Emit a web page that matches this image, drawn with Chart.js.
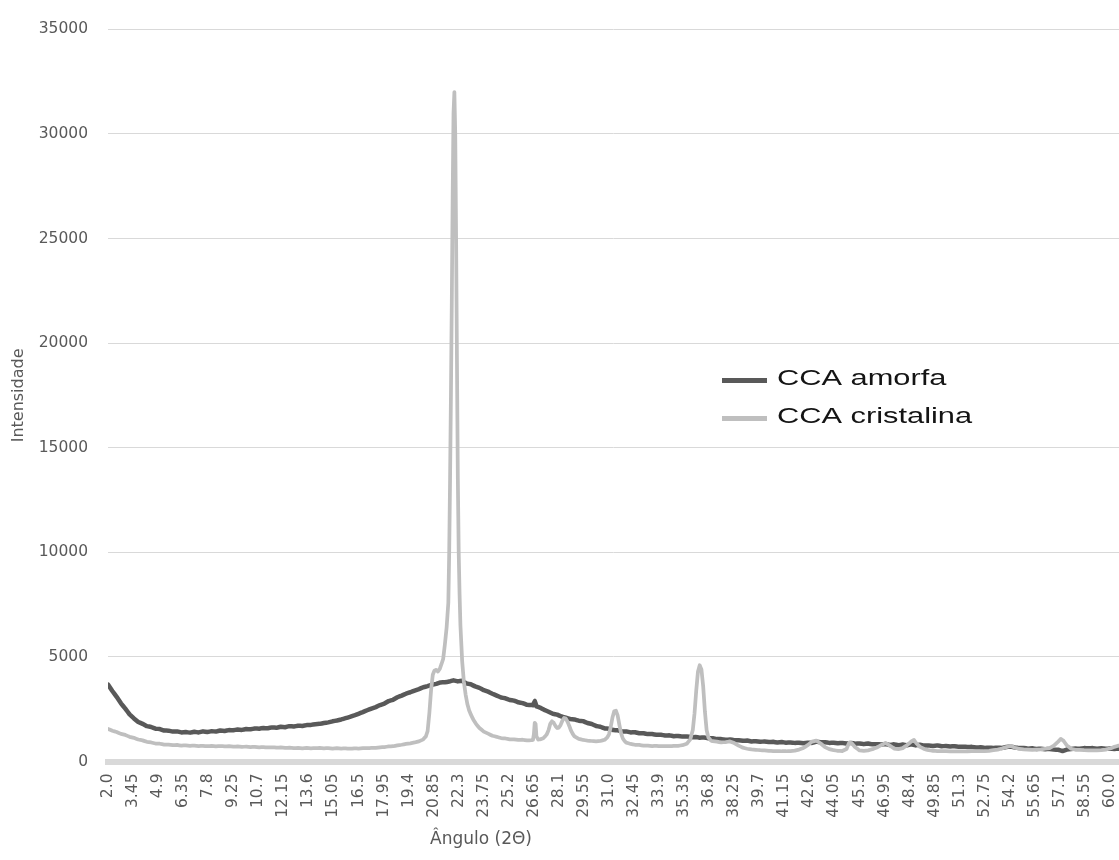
<!DOCTYPE html>
<html>
<head>
<meta charset="utf-8">
<script src="https://cdn.jsdelivr.net/npm/chart.js@4.4.1/dist/chart.umd.min.js"></script>
<style>
  html, body { margin: 0; padding: 0; background: #ffffff; }
  #wrap { width: 1119px; height: 860px; }
</style>
</head>
<body>
<div id="wrap"><canvas id="difratograma" width="1119" height="860"></canvas></div>
<script>
// Rótulos do eixo X (2θ)
const rotulosAngulo = ['2.0','3.45','4.9','6.35','7.8','9.25','10.7','12.15','13.6','15.05','16.5','17.95','19.4','20.85','22.3','23.75','25.2','26.65','28.1','29.55','31.0','32.45','33.9','35.35','36.8','38.25','39.7','41.15','42.6','44.05','45.5','46.95','48.4','49.85','51.3','52.75','54.2','55.65','57.1','58.55','60.0'];
const rotulosIntensidade = [0, 5000, 10000, 15000, 20000, 25000, 30000, 35000];

// CCA amorfa: ângulo 2θ e intensidade
const anguloAmorfa = [
  2.0,2.25,2.5,2.75,3.0,3.25,3.5,3.75,4.0,4.25,4.5,4.75,5.0,5.25,5.5,5.75,6.0,6.25,6.5,6.75,
  7.0,7.25,7.5,7.75,8.0,8.25,8.5,8.75,9.0,9.25,9.5,9.75,10.0,10.25,10.5,10.75,11.0,11.25,11.5,11.75,
  12.0,12.25,12.5,12.75,13.0,13.25,13.5,13.75,14.0,14.25,14.5,14.75,15.0,15.25,15.5,15.75,16.0,16.25,16.5,16.75,
  17.0,17.25,17.5,17.75,18.0,18.25,18.5,18.75,19.0,19.25,19.5,19.75,20.0,20.25,20.5,20.75,21.0,21.25,21.5,21.75,
  22.0,22.25,22.5,22.75,23.0,23.25,23.5,23.75,24.0,24.25,24.5,24.75,25.0,25.25,25.5,25.75,26.0,26.25,26.5,26.6,26.7,26.8,
  27.0,27.25,27.5,27.75,28.0,28.25,28.5,28.75,29.0,29.25,29.5,29.75,30.0,30.25,30.5,30.75,31.0,31.25,31.5,31.75,
  32.0,32.25,32.5,32.75,33.0,33.25,33.5,33.75,34.0,34.25,34.5,34.75,35.0,35.25,35.5,35.75,36.0,36.25,36.5,36.75,
  37.0,37.25,37.5,37.75,38.0,38.25,38.5,38.75,39.0,39.25,39.5,39.75,40.0,40.25,40.5,40.75,41.0,41.25,41.5,41.75,
  42.0,42.25,42.5,42.75,43.0,43.25,43.5,43.75,44.0,44.25,44.5,44.75,45.0,45.25,45.5,45.75,46.0,46.25,46.5,46.75,
  47.0,47.25,47.5,47.75,48.0,48.25,48.5,48.75,49.0,49.25,49.5,49.75,50.0,50.25,50.5,50.75,51.0,51.25,51.5,51.75,
  52.0,52.25,52.5,52.75,53.0,53.25,53.5,53.75,54.0,54.25,54.5,54.75,55.0,55.25,55.5,55.75,56.0,56.25,56.5,56.75,
  57.0,57.25,57.5,57.75,58.0,58.25,58.5,58.75,59.0,59.25,59.5,59.75,60.0,60.25,60.5
];
const intensidadeAmorfa = [
  3680,3370,3090,2780,2530,2250,2060,1890,1800,1690,1650,1570,1550,1480,1475,1430,1440,1390,1405,1380,
  1420,1390,1440,1410,1450,1430,1480,1460,1500,1490,1530,1510,1550,1540,1580,1570,1600,1590,1630,1610,
  1660,1640,1690,1670,1710,1700,1740,1750,1780,1800,1840,1870,1920,1960,2010,2070,2130,2200,2280,2360,
  2450,2530,2600,2700,2770,2890,2950,3070,3150,3240,3310,3390,3460,3550,3600,3670,3710,3780,3790,3820,
  3880,3830,3860,3730,3690,3590,3520,3410,3340,3240,3150,3060,3020,2940,2910,2830,2790,2710,2700,2690,2900,2640,
  2580,2470,2380,2280,2240,2150,2090,2030,2010,1950,1930,1840,1790,1700,1660,1580,1570,1500,1490,1440,
  1440,1390,1400,1350,1350,1310,1310,1280,1280,1240,1250,1210,1220,1190,1200,1160,1170,1140,1150,1110,
  1110,1070,1070,1040,1050,1020,1020,990,1000,960,970,940,960,930,940,910,930,900,910,890,
  900,870,900,890,950,920,920,890,900,870,890,860,890,850,860,830,860,820,830,810,
  830,790,820,780,810,780,820,770,800,760,770,740,770,730,740,720,730,700,710,690,
  700,670,680,650,660,650,660,650,690,710,670,640,650,610,630,600,610,590,600,570,
  560,500,570,600,620,610,640,630,640,610,630,610,620,600,610
];

// CCA cristalina: ângulo 2θ e intensidade
const anguloCristalina = [
  2.0,2.25,2.5,2.75,3.0,3.25,3.5,3.75,4.0,4.25,4.5,4.75,5.0,5.25,5.5,5.75,6.0,6.25,6.5,6.75,
  7.0,7.25,7.5,7.75,8.0,8.25,8.5,8.75,9.0,9.25,9.5,9.75,10.0,10.25,10.5,10.75,11.0,11.25,11.5,11.75,
  12.0,12.25,12.5,12.75,13.0,13.25,13.5,13.75,14.0,14.25,14.5,14.75,15.0,15.25,15.5,15.75,16.0,16.25,16.5,16.75,
  17.0,17.25,17.5,17.75,18.0,18.25,18.5,18.75,19.0,19.25,19.5,19.75,20.0,20.25,20.4,20.5,20.6,20.7,20.8,20.9,
  21.0,21.1,21.2,21.3,21.4,21.5,21.6,21.7,21.75,21.8,21.85,21.9,21.95,22.0,22.05,22.1,22.15,22.2,22.25,22.3,22.35,22.4,
  22.5,22.6,22.7,22.8,22.9,23.0,23.15,23.3,23.5,23.75,
  24.0,24.25,24.5,24.75,25.0,25.25,25.5,25.75,26.0,26.25,26.5,26.6,26.65,26.7,26.75,26.8,26.9,
  27.0,27.1,27.2,27.3,27.4,27.5,27.6,27.7,27.8,27.9,28.0,28.1,28.2,28.3,28.4,28.5,28.6,28.7,28.8,28.9,29.0,
  29.25,29.5,29.75,
  30.0,30.25,30.5,30.75,30.9,31.0,31.1,31.2,31.3,31.4,31.5,31.6,31.7,31.8,31.9,
  32.0,32.25,32.5,32.75,33.0,33.25,33.5,33.75,34.0,34.25,34.5,34.75,35.0,35.25,35.5,
  35.7,35.85,35.95,36.05,36.15,36.25,36.35,36.45,36.55,36.65,36.75,36.9,
  37.0,37.25,37.5,37.75,38.0,38.25,38.5,38.75,39.0,39.25,39.5,39.75,40.0,40.25,40.5,40.75,41.0,41.25,41.5,41.75,
  42.0,42.25,42.5,42.75,43.0,43.25,43.5,43.75,44.0,44.25,44.5,44.75,
  44.9,45.05,45.25,45.5,45.75,46.0,46.25,46.5,46.75,47.0,47.25,47.5,47.75,48.0,48.25,48.5,
  48.65,48.8,49.0,49.25,49.5,49.75,
  50.0,50.5,51.0,51.5,52.0,52.5,53.0,53.5,53.75,54.0,54.25,54.5,54.75,55.0,55.5,56.0,56.5,56.75,
  57.0,57.15,57.3,57.5,57.75,58.0,58.5,59.0,59.5,59.75,60.0,60.25,60.5
];
const intensidadeCristalina = [
  1560,1470,1410,1320,1270,1180,1130,1050,1010,940,910,860,850,810,810,780,790,760,770,750,
  760,740,750,730,750,720,740,720,730,710,720,700,710,690,700,680,690,670,680,660,
  670,650,660,640,650,630,650,630,640,650,630,640,620,640,620,630,610,630,620,640,
  640,650,650,680,690,720,730,770,800,840,870,910,960,1060,1200,1450,2300,3400,4150,4350,
  4380,4300,4420,4650,4900,5600,6400,7600,10000,13500,17500,22000,27000,31000,32000,30000,25000,19000,13500,10000,8000,6500,
  4800,3800,3200,2750,2450,2250,2000,1800,1600,1430,
  1330,1230,1180,1120,1100,1060,1060,1030,1040,1010,1020,1030,1300,1850,1800,1200,1050,
  1060,1080,1120,1200,1300,1500,1800,1920,1850,1700,1600,1620,1750,1950,2080,2050,1900,1700,1480,1320,1200,
  1080,1030,1000,
  980,960,980,1040,1150,1300,1650,2100,2400,2430,2200,1750,1350,1100,980,
  900,840,800,790,760,760,740,750,730,740,730,750,750,780,850,
  1050,1500,2300,3400,4300,4600,4400,3600,2400,1500,1150,1000,
  970,950,910,930,960,880,760,660,610,580,560,540,530,510,500,500,490,490,500,520,
  570,650,780,950,1000,860,690,590,540,510,500,600,
  900,880,680,530,510,530,590,670,780,890,760,620,590,640,780,960,
  1030,860,700,600,540,510,
  500,490,480,480,490,490,510,570,620,690,740,660,600,580,560,580,640,760,
  950,1080,1000,770,610,560,540,530,540,570,620,700,760
];

const pares = (xs, ys) => xs.map((x, i) => ({ x: x, y: ys[i] }));

const FONTE = '"DejaVu Sans", "Liberation Sans", sans-serif';
const CINZA_TEXTO = '#595959';

// Legenda desenhada dentro da área do gráfico
const legendaInterna = {
  id: 'legendaInterna',
  afterDatasetsDraw(chart) {
    const ctx = chart.ctx;
    const linhas = [379, 417];
    chart.data.datasets.forEach((ds, i) => {
      const y = linhas[i];
      ctx.save();
      ctx.strokeStyle = ds.borderColor;
      ctx.lineWidth = 5;
      ctx.beginPath();
      ctx.moveTo(722, y + 1.5);
      ctx.lineTo(767, y + 1.5);
      ctx.stroke();
      ctx.fillStyle = '#141414';
      ctx.font = '22px "Liberation Sans", Arial, sans-serif';
      ctx.textBaseline = 'middle';
      ctx.textAlign = 'left';
      ctx.translate(777, y);
      ctx.scale(1.4, 1);
      ctx.fillText(ds.label, 0, 0);
      ctx.restore();
    });
  }
};

// Título do eixo X
const tituloEixoX = {
  id: 'tituloEixoX',
  afterDraw(chart) {
    const ctx = chart.ctx;
    ctx.save();
    ctx.fillStyle = CINZA_TEXTO;
    ctx.font = '17px ' + FONTE;
    ctx.textAlign = 'center';
    ctx.textBaseline = 'middle';
    ctx.fillText('Ângulo (2Θ)', 481, 840);
    ctx.restore();
  }
};

// Estilo comum das curvas (tensão mínima: traço reto ponto a ponto, sem agrupamento por coluna de pixel)
const estiloCurva = {
  pointRadius: 0,
  tension: 0.0001,
  borderJoinStyle: 'round',
  borderCapStyle: 'round'
};

new Chart(document.getElementById('difratograma'), {
  type: 'line',
  data: {
    datasets: [
      Object.assign({
        label: 'CCA amorfa',
        data: pares(anguloAmorfa, intensidadeAmorfa),
        borderColor: '#595959',
        backgroundColor: '#595959',
        borderWidth: 4.5,
        order: 1
      }, estiloCurva),
      Object.assign({
        label: 'CCA cristalina',
        data: pares(anguloCristalina, intensidadeCristalina),
        borderColor: '#bfbfbf',
        backgroundColor: '#bfbfbf',
        borderWidth: 3.75,
        order: 0
      }, estiloCurva)
    ]
  },
  options: {
    responsive: false,
    animation: false,
    devicePixelRatio: 1,
    layout: { padding: { top: 26.5, right: 0, bottom: 0, left: 0 } },
    plugins: {
      legend: { display: false },
      tooltip: { enabled: false }
    },
    scales: {
      x: {
        type: 'linear',
        min: 2,
        max: 60.52,
        afterBuildTicks(scale) {
          scale.ticks = rotulosAngulo.map(t => ({ value: parseFloat(t) }));
        },
        afterFit(scale) {
          scale.height = 98.5;
          scale.paddingLeft = 0;
          scale.paddingRight = 0;
        },
        ticks: {
          autoSkip: false,
          maxRotation: 90,
          minRotation: 90,
          padding: 12,
          color: CINZA_TEXTO,
          font: { family: FONTE, size: 15.5 },
          callback: (v, i) => rotulosAngulo[i]
        },
        grid: { display: false, drawTicks: false },
        border: { display: true, color: '#d9d9d9', width: 6 }
      },
      y: {
        min: 0,
        max: 35000,
        afterBuildTicks(scale) {
          scale.ticks = rotulosIntensidade.map(v => ({ value: v }));
        },
        afterFit(scale) {
          scale.width = 108;
        },
        ticks: {
          padding: 20,
          color: CINZA_TEXTO,
          font: { family: FONTE, size: 15.5 },
          callback: v => String(v)
        },
        grid: { color: '#d9d9d9', lineWidth: 1, drawTicks: false },
        border: { display: false },
        title: {
          display: true,
          text: 'Intensidade',
          color: CINZA_TEXTO,
          font: { family: FONTE, size: 16 },
          padding: { top: 9, bottom: 0 }
        }
      }
    }
  },
  plugins: [legendaInterna, tituloEixoX]
});
</script>
</body>
</html>
